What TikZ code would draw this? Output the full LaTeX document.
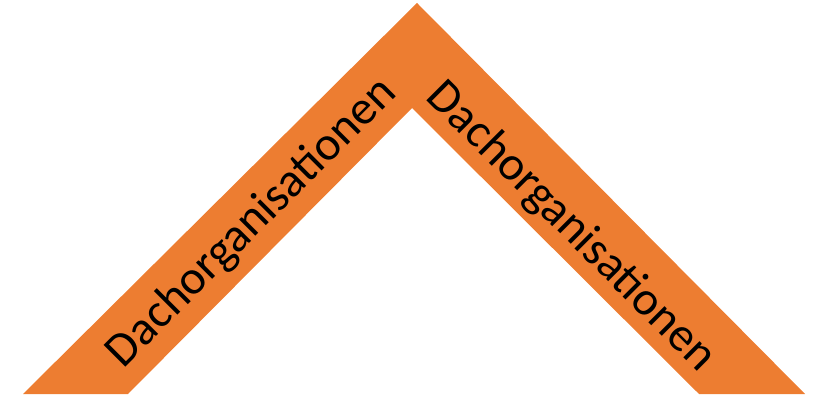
\documentclass[tikz,border=0pt]{standalone}
\usepackage{fontspec}
\setmainfont{Carlito}
\usepackage{tikz}

\definecolor{rooforange}{HTML}{ED7D31}

\begin{document}
\begin{tikzpicture}[x=1pt,y=1pt]
  \tikzstyle{roof}=[fill=rooforange,draw=none]
  \tikzstyle{rooftext}=[font=\fontsize{48}{48}\selectfont,text=black,inner sep=0pt]

  \useasboundingbox (0,0) rectangle (813,396);

  \fill[roof] (23,2) -- (417,393) -- (805,2) -- (699,2) -- (412,288) -- (128,2) -- cycle;

  \node[rooftext,rotate=45]  (left)  at (252,173) {Dachorganisationen};
  \node[rooftext,rotate=-45] (right) at (571,169) {Dachorganisationen};
\end{tikzpicture}
\end{document}
